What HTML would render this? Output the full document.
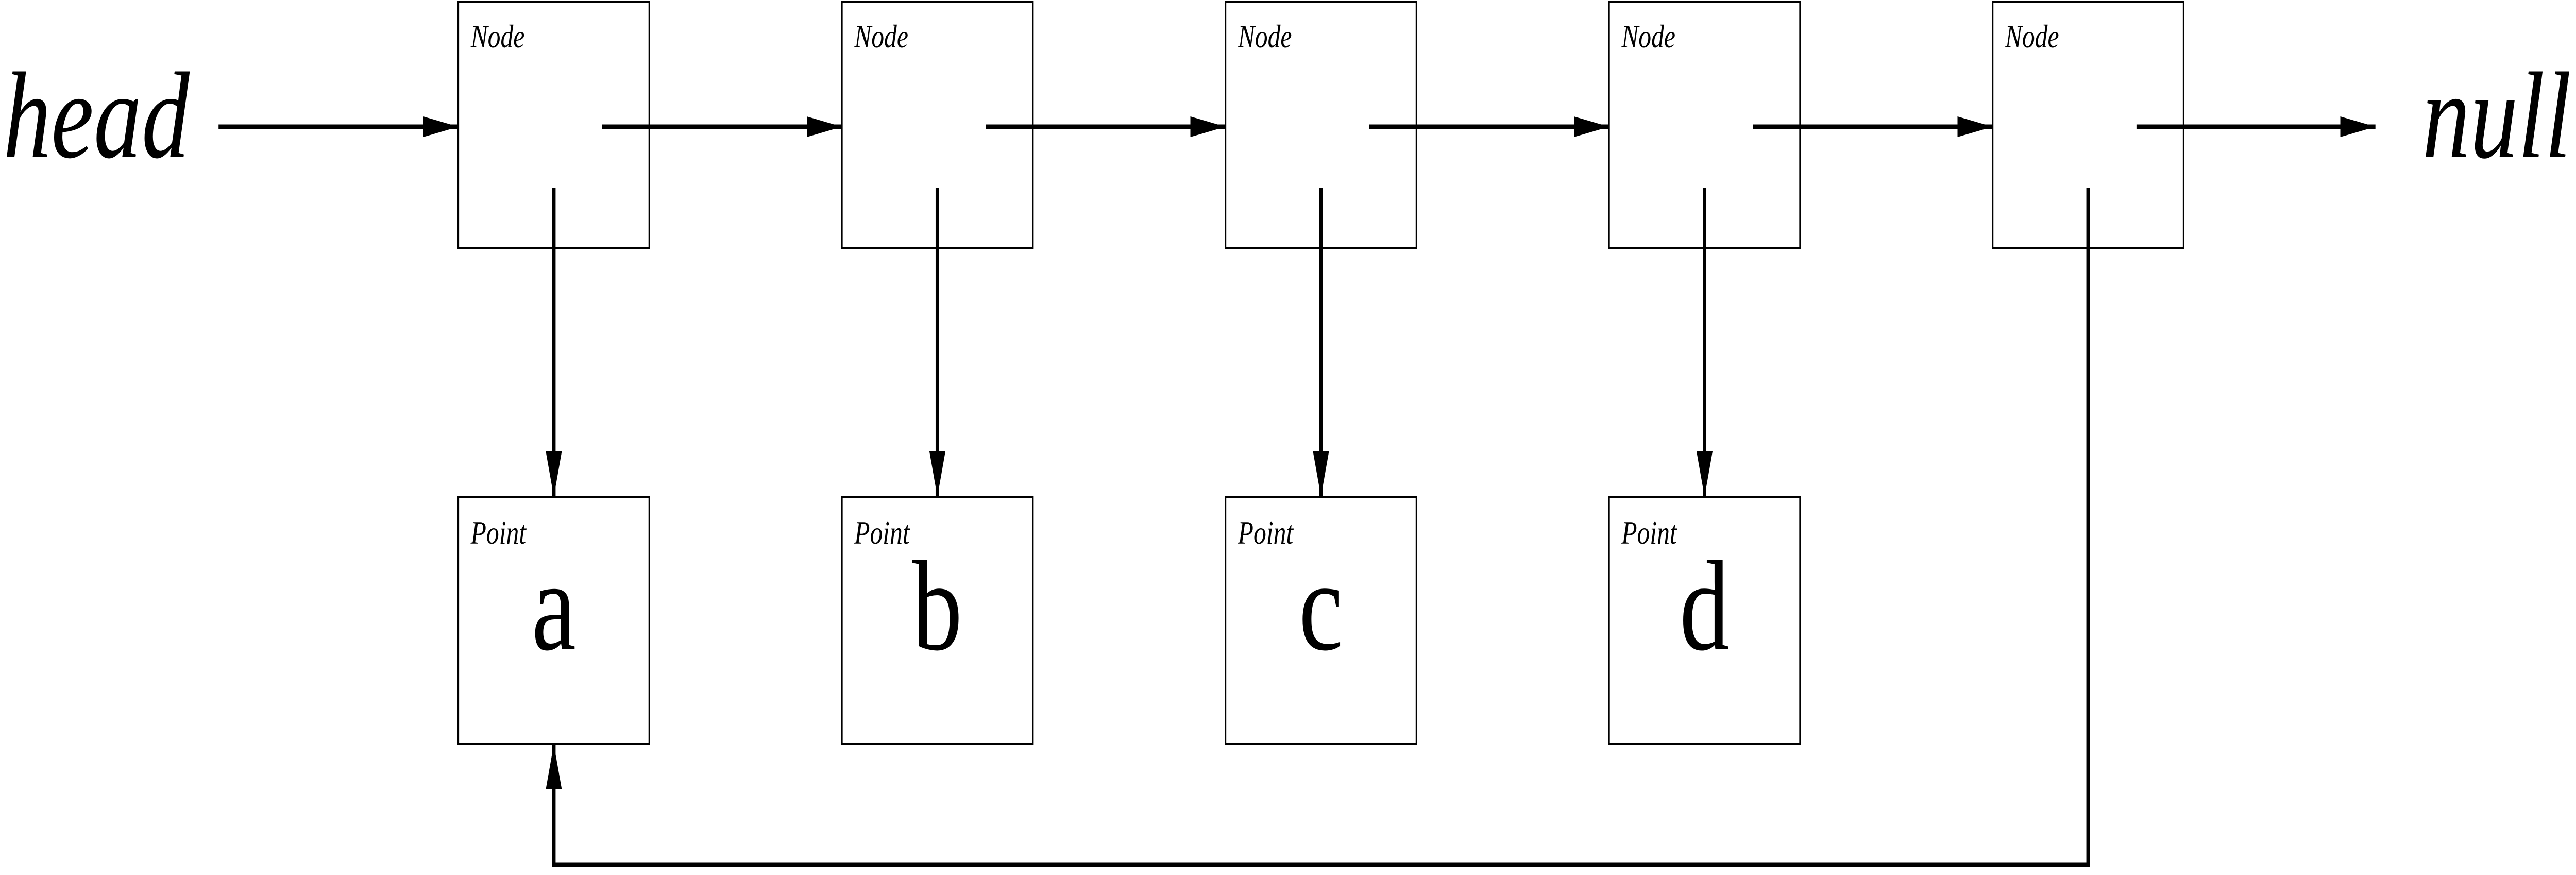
<!DOCTYPE html>
<html><head><meta charset="utf-8"><style>
html,body{margin:0;padding:0;background:#fff;width:100%;height:100%;overflow:hidden;}
svg{display:block;width:100vw;height:100vh}
</style></head><body>
<svg viewBox="0 0 6447 1698" preserveAspectRatio="none" xmlns="http://www.w3.org/2000/svg">
<defs>
<marker id="ah" markerUnits="userSpaceOnUse" markerWidth="90" markerHeight="44" refX="88" refY="22" orient="auto">
<path d="M0,2 L88,22 L0,42 Z" fill="#000"/>
</marker>
</defs>
<g fill="#fff" stroke="#000" stroke-width="4">
<rect x="1147" y="4" width="478" height="478"/>
<rect x="2107" y="4" width="478" height="478"/>
<rect x="3067" y="4" width="478" height="478"/>
<rect x="4027" y="4" width="478" height="478"/>
<rect x="4987" y="4" width="478" height="478"/>
<rect x="1147" y="964" width="478" height="480"/>
<rect x="2107" y="964" width="478" height="480"/>
<rect x="3067" y="964" width="478" height="480"/>
<rect x="4027" y="964" width="478" height="480"/>
</g>
<g stroke="#000" stroke-width="9" fill="none" marker-end="url(#ah)">
<line x1="547" y1="246" x2="1147" y2="246"/>
<line x1="1507" y1="246" x2="2107" y2="246"/>
<line x1="2467" y1="246" x2="3067" y2="246"/>
<line x1="3427" y1="246" x2="4027" y2="246"/>
<line x1="4387" y1="246" x2="4987" y2="246"/>
<line x1="5347" y1="246" x2="5945" y2="246"/>
<line x1="1386" y1="364" x2="1386" y2="964"/>
<line x1="2346" y1="364" x2="2346" y2="964"/>
<line x1="3306" y1="364" x2="3306" y2="964"/>
<line x1="4266" y1="364" x2="4266" y2="964"/>
<polyline points="5226,364 5226,1678 1386,1678 1386,1444"/>
</g>
<g font-family="Liberation Serif, serif" font-style="italic" font-size="64" fill="#000">
<text x="1178" y="92">Node</text>
<text x="2138" y="92">Node</text>
<text x="3098" y="92">Node</text>
<text x="4058" y="92">Node</text>
<text x="5018" y="92">Node</text>
<text x="1178" y="1055">Point</text>
<text x="2138" y="1055">Point</text>
<text x="3098" y="1055">Point</text>
<text x="4058" y="1055">Point</text>
</g>
<g font-family="Liberation Serif, serif" font-size="250" fill="#000" text-anchor="middle">
<text x="1386" y="1260">a</text>
<text x="2346" y="1260">b</text>
<text x="3306" y="1260">c</text>
<text x="4266" y="1260">d</text>
</g>
<g font-family="Liberation Serif, serif" font-style="italic" font-size="240" fill="#000">
<text x="8" y="305">head</text>
<text x="6062" y="305">null</text>
</g>
</svg>
</body></html>
